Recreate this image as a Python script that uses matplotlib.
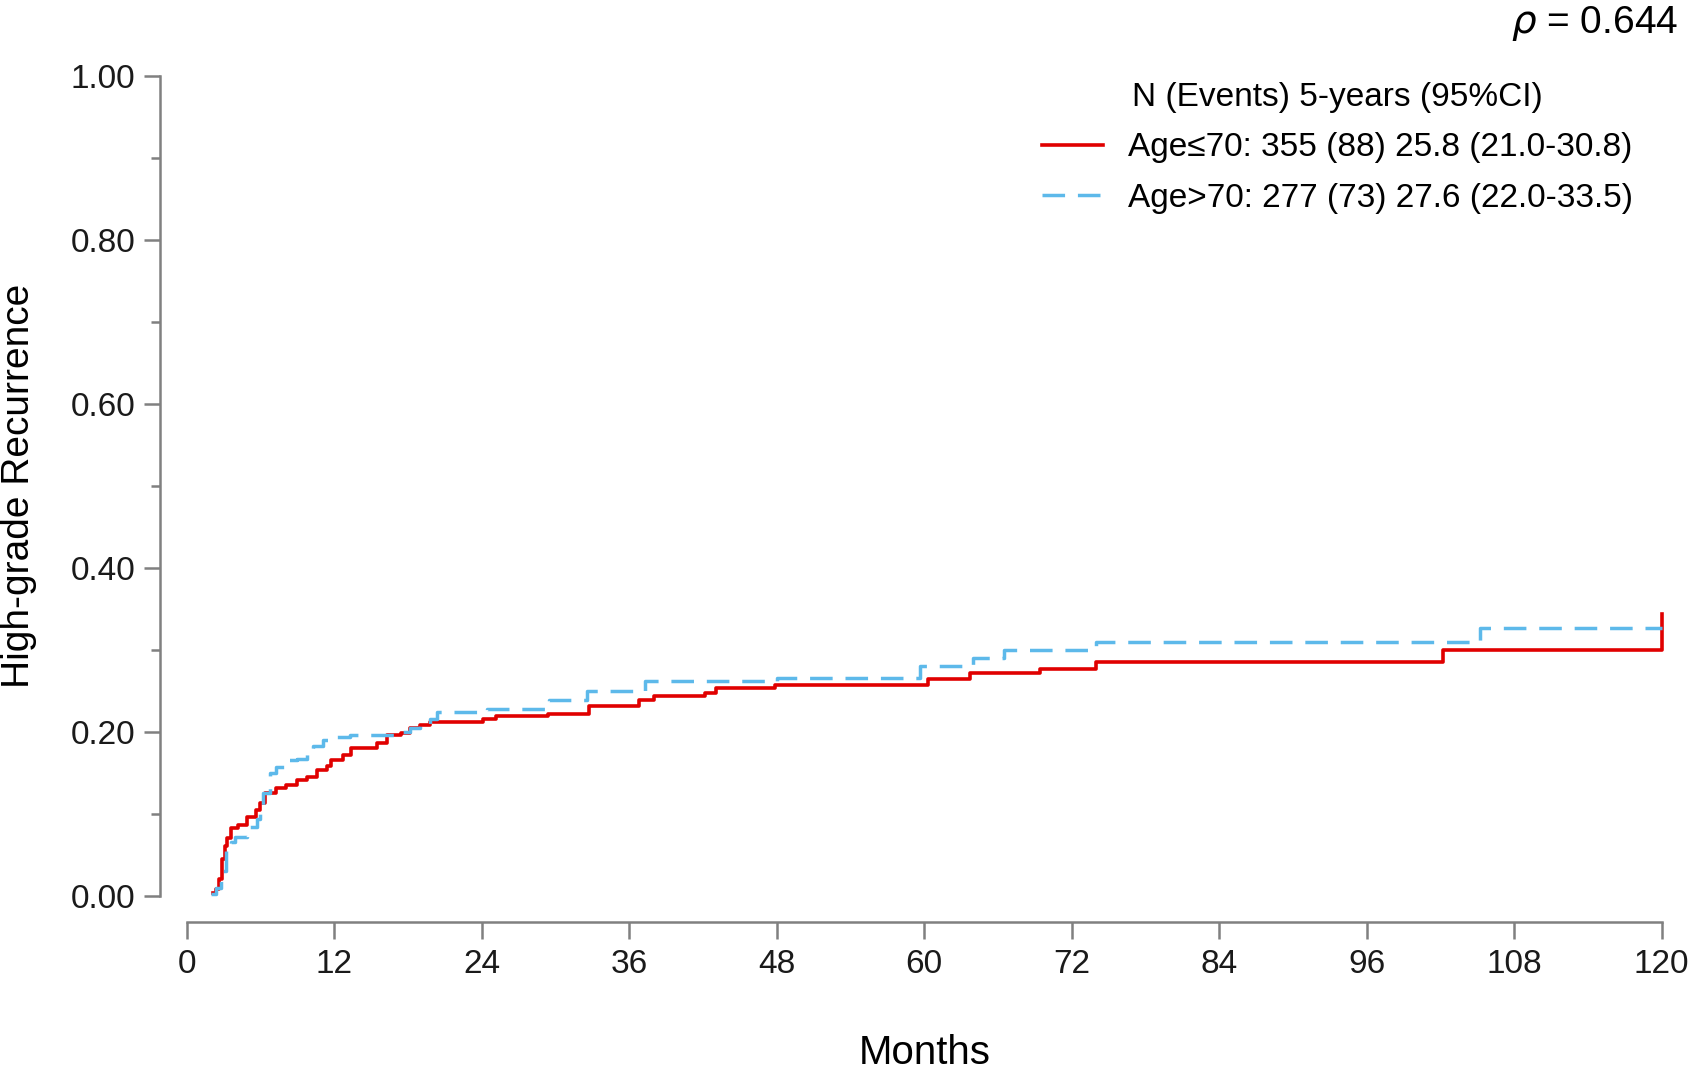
import matplotlib
matplotlib.use('Agg')
import matplotlib.pyplot as plt
from matplotlib.ticker import FixedLocator

plt.rcParams['font.family'] = ['Liberation Sans', 'DejaVu Sans']

# cumulative incidence, Age <= 70
months_young = [2.1, 2.4, 2.6, 2.9, 3.1, 3.3, 3.6, 4.2, 4.9, 5.6, 6.0, 6.4, 7.3, 8.1,
                9.0, 9.8, 10.6, 11.4, 11.7, 12.7, 13.4, 15.5, 16.3, 17.4, 18.2, 19.0,
                19.8, 24.1, 25.2, 29.4, 32.7, 36.8, 38.0, 42.2, 43.1, 47.9, 60.3,
                63.7, 69.4, 74.0, 102.2, 120.0]
cif_young = [0.003, 0.008, 0.020, 0.045, 0.060, 0.070, 0.082, 0.086, 0.096, 0.104,
             0.113, 0.125, 0.131, 0.135, 0.141, 0.145, 0.153, 0.158, 0.165, 0.172,
             0.180, 0.186, 0.196, 0.198, 0.204, 0.208, 0.212, 0.216, 0.219, 0.222,
             0.231, 0.239, 0.243, 0.247, 0.253, 0.257, 0.264, 0.271, 0.277, 0.285,
             0.300, 0.343]

# cumulative incidence, Age > 70
months_old = [2.0, 2.4, 2.8, 3.2, 3.6, 3.9, 4.9, 5.7, 6.0, 6.2, 6.8, 7.3, 8.1, 9.0,
              9.8, 10.3, 11.1, 12.2, 13.3, 17.0, 18.2, 19.0, 19.8, 20.4, 24.4, 29.5,
              32.6, 37.3, 48.0, 59.7, 64.0, 66.5, 74.0, 105.2, 120.0]
cif_old = [0.002, 0.010, 0.030, 0.055, 0.066, 0.072, 0.084, 0.094, 0.108, 0.125,
           0.149, 0.157, 0.165, 0.167, 0.178, 0.182, 0.190, 0.194, 0.196, 0.200,
           0.205, 0.209, 0.215, 0.224, 0.228, 0.239, 0.249, 0.262, 0.266, 0.280,
           0.290, 0.300, 0.309, 0.327, 0.327]

labels = ['Age\u226470: 355 (88) 25.8 (21.0-30.8)',
          'Age>70: 277 (73) 27.6 (22.0-33.5)']
legend_title = 'N (Events) 5-years (95%CI)'
x_ticks = [0, 12, 24, 36, 48, 60, 72, 84, 96, 108, 120]
y_ticks = [0.0, 0.2, 0.4, 0.6, 0.8, 1.0]
y_minor = [0.1, 0.3, 0.5, 0.7, 0.9]

fig = plt.figure(figsize=(16.92, 10.75), dpi=100)
ax = fig.add_axes([0.09439, 0.14260, 0.8985, 0.80242])

ax.step(months_young, cif_young, where='post', color='#E00000', lw=2.6,
        label=labels[0])
ax.step(months_old, cif_old, where='post', color='#5DB9EA', lw=2.5,
        dashes=(6.5, 3.7), label=labels[1])

ax.set_xlim(-2.2, 121.5)
ax.set_ylim(-0.0317, 1.02)

for s in ['top', 'right']:
    ax.spines[s].set_visible(False)
for s in ['left', 'bottom']:
    ax.spines[s].set_color('#808080')
    ax.spines[s].set_linewidth(1.8)
ax.spines['left'].set_bounds(0, 1)
ax.spines['bottom'].set_bounds(0, 120)

ax.set_xticks(x_ticks)
ax.set_xticklabels([str(t) for t in x_ticks])
ax.set_yticks(y_ticks)
ax.set_yticklabels(['%.2f' % t for t in y_ticks])
ax.yaxis.set_minor_locator(FixedLocator(y_minor))

ax.tick_params(axis='both', which='major', labelsize=24, color='#808080',
               width=1.8, labelcolor='#1a1a1a')
ax.tick_params(axis='x', which='major', length=12, pad=8)
ax.tick_params(axis='y', which='major', length=11.5, pad=6)
ax.tick_params(axis='y', which='minor', length=6.5, width=1.8, color='#808080')

ax.legend(loc='upper left', bbox_to_anchor=(0.6158, 0.924),
          bbox_transform=fig.transFigure, frameon=False, fontsize=24,
          title=legend_title, title_fontsize=24, handlelength=1.83,
          handletextpad=0.75, labelspacing=0.59, borderpad=0, borderaxespad=0)

fig.text(0.9917, 0.9693, r'$\rho$ = 0.644', ha='right', va='baseline', fontsize=28)
fig.text(0.5466, 0.010, 'Months', ha='center', va='baseline', fontsize=29)
fig.text(19.4 / 1692, 1 - 485.6 / 1075, 'High-grade Recurrence', rotation=90,
         ha='center', va='center', fontsize=28)

fig.savefig('out.png', dpi=100)
